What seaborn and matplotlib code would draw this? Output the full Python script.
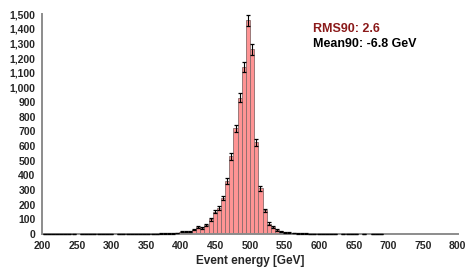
import numpy as np
import pandas as pd
import matplotlib
matplotlib.use("Agg")
import matplotlib.pyplot as plt
import seaborn as sns

# histogram: 100 bins of 6 GeV from 200 to 800
bin_lo, bin_hi, bin_w = 200, 800, 6
counts = [
    1, 1, 1, 1, 1, 1, 1, 1, 0, 1,      # 200-254
    1, 1, 1, 1, 1, 1, 1, 0, 1, 1,      # 260-314
    1, 1, 1, 1, 1, 1, 1, 1, 2, 3,      # 320-374
    3, 4, 5, 15, 15, 18, 28, 48, 42, 60,   # 380-434
    100, 152, 178, 245, 360, 530, 720, 930, 1140, 1460,  # 440-494
    1260, 625, 310, 160, 70, 45, 25, 18, 12, 8,  # 500-554
    6, 4, 3, 2, 1, 1, 1, 1, 1, 1,      # 560-614
    1, 0, 1, 1, 1, 1, 0, 1, 0, 1,      # 620-674
    1, 1, 0, 0, 0, 0, 0, 0, 0, 0,      # 680-734
    0, 0, 0, 0, 0, 0, 0, 0, 0, 0,      # 740-794
]
rms90 = "2.6"
mean90 = "-6.8 GeV"

df = pd.DataFrame({"energy": np.arange(bin_lo, bin_hi, bin_w) + bin_w / 2,
                   "count": np.array(counts, dtype=float)})
df["err"] = np.sqrt(df["count"])

sns.set_style("white")
plt.rcParams["font.family"] = ["Liberation Sans", "DejaVu Sans"]

fig = plt.figure(figsize=(4.66, 2.72), dpi=100)
ax = fig.add_axes([0.0912, 0.1404, 0.8908, 0.807])

sns.histplot(data=df, x="energy", weights="count", binwidth=bin_w,
             binrange=(bin_lo, bin_hi), ax=ax,
             color="#ff9494", edgecolor="#8a6c6c", linewidth=0.6, alpha=1.0)
nz = df[df["count"] > 0]
ax.errorbar(nz["energy"], nz["count"], yerr=nz["err"], fmt="none",
            ecolor="black", elinewidth=0.8, capsize=1.6, capthick=0.9,
            clip_on=False, zorder=4)

ax.set_xlim(200, 800)
ax.set_ylim(0, 1500)
ax.set_xticks(np.arange(200, 801, 50))
ax.set_yticks(np.arange(0, 1501, 100))
ax.set_yticklabels([f"{v:,}" for v in range(0, 1501, 100)])
ax.set_xlabel("Event energy [GeV]", fontsize=8.5, fontweight="bold", labelpad=3)
ax.set_ylabel("")

for s in ["top", "right"]:
    ax.spines[s].set_visible(False)
for s in ["left", "bottom"]:
    ax.spines[s].set_color("#8c8c8c")
    ax.spines[s].set_linewidth(1.4)
ax.tick_params(axis="both", direction="inout", length=6, width=1, color="black",
               labelsize=7.5, pad=2)
for lab in ax.get_xticklabels() + ax.get_yticklabels():
    lab.set_fontweight("bold")

ax.text(0.651, 0.933, f"RMS90: {rms90}", transform=ax.transAxes, color="#8b1a1a",
        fontsize=9, fontweight="bold", va="center")
ax.text(0.651, 0.865, f"Mean90: {mean90}", transform=ax.transAxes, color="black",
        fontsize=9, fontweight="bold", va="center")

fig.savefig("out.png", dpi=100)
